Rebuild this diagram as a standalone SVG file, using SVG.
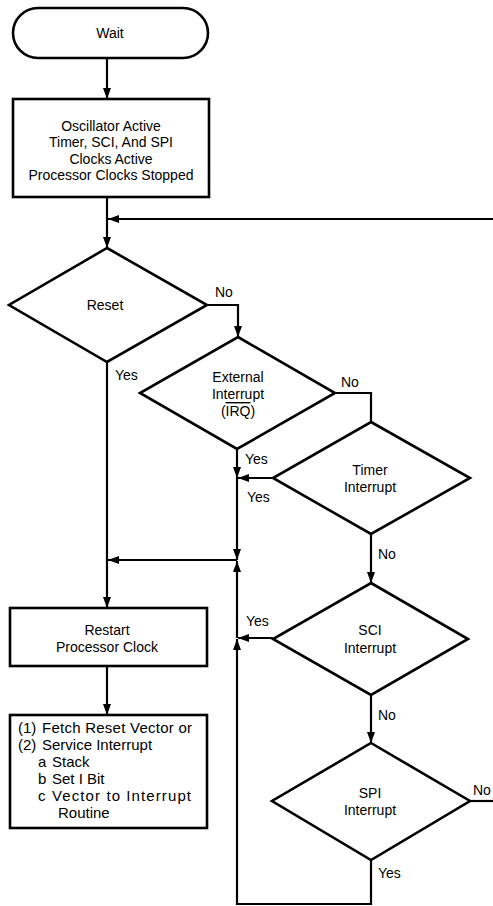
<svg xmlns="http://www.w3.org/2000/svg" width="493" height="906" viewBox="0 0 493 906">
<style>
.s{fill:#fff;stroke:#000;stroke-width:2.6}
.c{fill:none;stroke:#000;stroke-width:2.2}
text{font-family:"Liberation Sans",Arial,Helvetica,sans-serif;font-size:14px;fill:#000}
.m{text-anchor:middle}
.b{font-size:15px}
</style>
<defs>
<marker id="ar" markerWidth="11" markerHeight="8" refX="11" refY="4" orient="auto" markerUnits="userSpaceOnUse">
<path d="M0,0 L11,4 L0,8 z" fill="#000"/>
</marker>
</defs>
<rect width="493" height="906" fill="#fff"/>
<g id="connectors">
<line class="c" x1="107" y1="58" x2="107" y2="99" marker-end="url(#ar)"/>
<line class="c" x1="107" y1="197" x2="107" y2="248" marker-end="url(#ar)"/>
<line class="c" x1="493" y1="219" x2="108" y2="219" marker-end="url(#ar)"/>
<polyline class="c" points="207,305 238,305 238,337" marker-end="url(#ar)"/>
<polyline class="c" points="335,393 371,393 371,422"/>
<line class="c" x1="237" y1="449" x2="237" y2="478" marker-end="url(#ar)"/>
<line class="c" x1="273" y1="478" x2="238" y2="478" marker-end="url(#ar)"/>
<line class="c" x1="237" y1="478" x2="237" y2="560" marker-end="url(#ar)"/>
<line class="c" x1="237" y1="560" x2="108" y2="560" marker-end="url(#ar)"/>
<line class="c" x1="107" y1="362" x2="107" y2="608" marker-end="url(#ar)"/>
<line class="c" x1="371" y1="534" x2="371" y2="583" marker-end="url(#ar)"/>
<line class="c" x1="273" y1="638" x2="238" y2="638" marker-end="url(#ar)"/>
<line class="c" x1="371" y1="695" x2="371" y2="743" marker-end="url(#ar)"/>
<line class="c" x1="470" y1="801" x2="493" y2="801"/>
<polyline class="c" points="371,860 371,904 237,904 237,639" marker-end="url(#ar)"/>
<line class="c" x1="237" y1="638" x2="237" y2="561" marker-end="url(#ar)"/>
<line class="c" x1="107" y1="666" x2="107" y2="715" marker-end="url(#ar)"/>
<text x="215" y="297">No</text>
<text x="341" y="387">No</text>
<text x="115" y="380">Yes</text>
<text x="245" y="464">Yes</text>
<text x="247" y="502">Yes</text>
<text x="378" y="559">No</text>
<text x="246" y="626">Yes</text>
<text x="378" y="720">No</text>
<text x="473" y="795">No</text>
<text x="378" y="878">Yes</text>
</g>
<g id="wait">
<rect class="s" x="13" y="8" width="195" height="50" rx="25"/>
<text class="m" x="110" y="38">Wait</text>
</g>
<g id="oscillator">
<rect class="s" x="13" y="99" width="196" height="98"/>
<text class="m" x="111" y="131">Oscillator Active</text>
<text class="m" x="111" y="147">Timer, SCI, And SPI</text>
<text class="m" x="111" y="164">Clocks Active</text>
<text class="m" x="111" y="180">Processor Clocks Stopped</text>
</g>
<g id="reset">
<polygon class="s" points="107,248 207,305 107,362 9,305"/>
<text class="m" x="105" y="310">Reset</text>
</g>
<g id="external">
<polygon class="s" points="238,337 335,393 237,449 140,393"/>
<text class="m" x="238" y="382">External</text>
<text class="m" x="238" y="399">Interrupt</text>
<text class="m" x="238" y="416">(<tspan text-decoration="overline">IRQ</tspan>)</text>
</g>
<g id="timer">
<polygon class="s" points="371,422 470,478 371,534 273,478"/>
<text class="m" x="370" y="475">Timer</text>
<text class="m" x="370" y="492">Interrupt</text>
</g>
<g id="sci">
<polygon class="s" points="371,583 468,639 371,695 273,639"/>
<text class="m" x="370" y="635">SCI</text>
<text class="m" x="370" y="653">Interrupt</text>
</g>
<g id="spi">
<polygon class="s" points="371,743 470,801 371,860 272,801"/>
<text class="m" x="370" y="798">SPI</text>
<text class="m" x="370" y="815">Interrupt</text>
</g>
<g id="restart">
<rect class="s" x="10" y="608" width="197" height="58"/>
<text class="m" x="107" y="635">Restart</text>
<text class="m" x="107" y="652">Processor Clock</text>
</g>
<g id="service">
<rect class="s" x="10" y="715" width="197" height="113"/>
<text class="b" x="18" y="733">(1)</text><text class="b" x="42" y="733" textLength="150" lengthAdjust="spacing">Fetch Reset Vector or</text>
<text class="b" x="18" y="750">(2)</text><text class="b" x="42" y="750">Service Interrupt</text>
<text class="b" x="38" y="767">a</text><text class="b" x="52" y="767">Stack</text>
<text class="b" x="38" y="784">b</text><text class="b" x="52" y="784">Set I Bit</text>
<text class="b" x="38" y="801">c</text><text class="b" x="52" y="801" textLength="139" lengthAdjust="spacing">Vector to Interrupt</text>
<text class="b" x="58" y="818">Routine</text>
</g>
</svg>
